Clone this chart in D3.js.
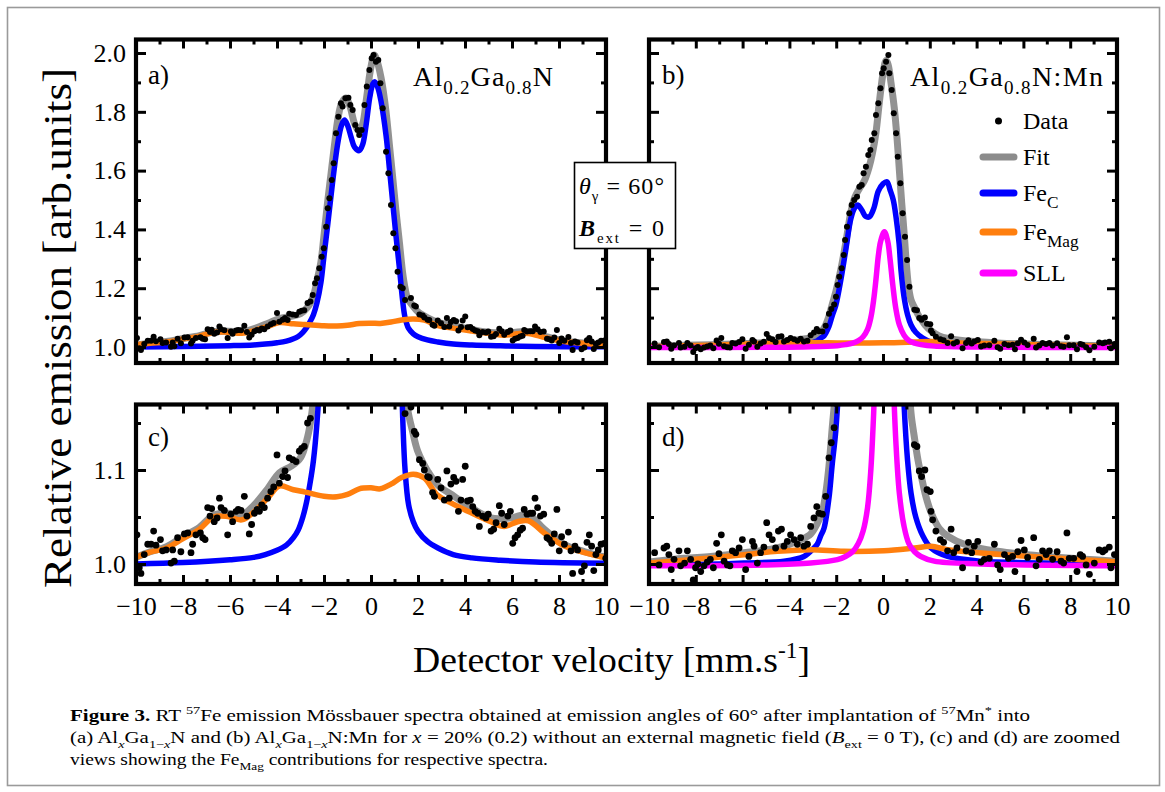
<!DOCTYPE html>
<html><head><meta charset="utf-8">
<script src="https://cdn.jsdelivr.net/npm/d3@7"></script>
<style>body{margin:0;background:#fff}svg{display:block}</style>
</head><body>
<svg id="fig" width="1165" height="792"></svg>
<script>
// ---------------- data ----------------
const velMajor = [-10,-8,-6,-4,-2,0,2,4,6,8,10];
const velMinor = [-9,-7,-5,-3,-1,1,3,5,7,9];
const emisMajorTop = [1.0,1.2,1.4,1.6,1.8,2.0];
const emisMinorTop = [1.1,1.3,1.5,1.7,1.9];
const emisMajorZoom = [1.0,1.1];
const emisMinorZoom = [1.05,1.15];

// Al0.2Ga0.8N  (panels a, c)
const dataA = [[-9.96,1.031],[-9.86,0.996],[-9.79,0.990],[-9.65,1.010],[-9.50,1.021],[-9.36,1.021],[-9.25,1.035],[-9.15,1.020],[-8.96,1.026],[-8.87,1.014],[-8.72,1.015],[-8.51,1.001],[-8.44,1.015],[-8.37,1.003],[-8.23,1.028],[-8.09,1.013],[-7.94,1.032],[-7.80,1.033],[-7.66,1.012],[-7.59,1.021],[-7.45,1.031],[-7.26,1.033],[-7.16,1.028],[-7.06,1.026],[-6.95,1.060],[-6.85,1.051],[-6.78,1.059],[-6.67,1.045],[-6.55,1.049],[-6.45,1.070],[-6.38,1.060],[-6.24,1.057],[-6.10,1.031],[-5.96,1.053],[-5.89,1.045],[-5.74,1.056],[-5.65,1.058],[-5.53,1.057],[-5.39,1.072],[-5.28,1.051],[-5.18,1.032],[-5.08,1.042],[-4.96,1.054],[-4.85,1.058],[-4.75,1.056],[-4.65,1.063],[-4.54,1.060],[-4.40,1.070],[-4.26,1.077],[-4.14,1.082],[-4.00,1.116],[-3.90,1.086],[-3.76,1.093],[-3.66,1.099],[-3.55,1.092],[-3.48,1.113],[-3.33,1.111],[-3.19,1.109],[-3.05,1.120],[-2.95,1.123],[-2.84,1.125],[-2.70,1.150],[-2.58,1.155],
[-2.48,1.177],[-2.38,1.217],[-2.30,1.234],[-2.20,1.268],[-2.10,1.307],[-2.01,1.336],[-1.91,1.409],[-1.84,1.472],[-1.77,1.506],[-1.67,1.568],[-1.59,1.625],[-1.49,1.727],[-1.39,1.783],[-1.28,1.829],[-1.21,1.818],[-1.09,1.846],[-0.96,1.848],[-0.88,1.823],[-0.78,1.806],[-0.67,1.755],[-0.57,1.738],[-0.50,1.721],[-0.40,1.738],[-0.28,1.823],[-0.18,1.886],[-0.07,1.942],[0.03,1.982],[0.11,1.993],[0.21,1.970],[0.31,1.976],[0.40,1.897],[0.50,1.812],[0.64,1.664],[0.74,1.591],[0.85,1.483],[0.95,1.387],[1.04,1.336],[1.13,1.256],[1.25,1.205],[1.35,1.200],[1.45,1.160],
[1.70,1.167],[1.84,1.141],[1.91,1.138],[2.06,1.111],[2.20,1.107],[2.27,1.100],[2.41,1.093],[2.48,1.092],[2.62,1.076],[2.70,1.072],[2.84,1.090],[2.98,1.081],[3.12,1.068],[3.23,1.099],[3.33,1.070],[3.40,1.085],[3.52,1.092],[3.62,1.088],[3.72,1.056],[3.83,1.068],[3.90,1.090],[4.01,1.104],[4.11,1.067],[4.23,1.068],[4.33,1.061],[4.43,1.056],[4.54,1.054],[4.61,1.040],[4.75,1.051],[4.89,1.049],[4.99,1.053],[5.11,1.035],[5.22,1.037],[5.32,1.044],[5.46,1.062],[5.56,1.054],[5.67,1.042],[5.82,1.051],[5.93,1.056],[6.03,1.022],[6.13,1.028],[6.24,1.031],[6.35,1.036],[6.45,1.038],[6.52,1.058],[6.64,1.053],[6.78,1.054],[6.88,1.054],[6.98,1.070],[7.09,1.060],[7.21,1.051],[7.35,1.053],[7.49,1.028],[7.59,1.026],[7.69,1.022],[7.80,1.032],[7.91,1.058],[8.01,1.014],[8.11,1.029],[8.23,1.021],[8.40,1.034],[8.51,1.014],[8.58,0.990],[8.68,1.019],[8.79,1.015],[8.96,0.992],[9.08,0.998],[9.19,1.023],[9.29,1.031],[9.39,1.019],[9.48,0.993],[9.57,1.010],[9.67,1.015],[9.79,1.021],[9.93,1.022],[9.99,1.006]];
const fitA = [[-10,1.007],[-9.4,1.013],[-8.7,1.0185],[-8,1.029],[-7.3,1.039],[-6.7,1.052],[-6.1,1.054],[-5.5,1.052],[-5,1.062],[-4.4,1.080],[-3.9,1.097],[-3.4,1.104],[-3.0,1.113],[-2.7,1.135],[-2.55,1.155],[-2.41,1.185],[-2.3,1.225],[-2.13,1.29],[-2.0,1.38],[-1.85,1.49],[-1.7,1.59],[-1.55,1.69],[-1.4,1.78],[-1.25,1.83],[-1.08,1.847],[-0.9,1.82],[-0.7,1.76],[-0.5,1.735],[-0.35,1.76],[-0.2,1.84],[-0.05,1.93],[0.07,1.98],[0.14,1.993],[0.25,1.975],[0.43,1.915],[0.64,1.80],[0.78,1.69],[0.92,1.58],[1.06,1.465],[1.21,1.355],[1.35,1.25],[1.45,1.20],[1.56,1.165],[1.77,1.141],[1.99,1.12],[2.41,1.099],[2.84,1.084],[3.54,1.072],[4.26,1.060],[5.1,1.049],[5.96,1.049],[6.67,1.0525],[7.37,1.037],[8.2,1.021],[9.1,1.013],[10,1.007]];
const fecA = [[-10,1.000],[-8,1.0015],[-6,1.0045],[-5,1.007],[-4.5,1.010],[-4,1.0145],[-3.6,1.02],[-3.3,1.028],[-3.1,1.036],[-2.9,1.05],[-2.75,1.065],[-2.6,1.085],[-2.45,1.11],[-2.3,1.15],[-2.13,1.22],[-2.0,1.31],[-1.85,1.41],[-1.7,1.515],[-1.55,1.615],[-1.4,1.70],[-1.25,1.755],[-1.13,1.772],[-1.0,1.755],[-0.85,1.715],[-0.7,1.68],[-0.5,1.668],[-0.35,1.69],[-0.2,1.76],[-0.05,1.85],[0.08,1.895],[0.17,1.902],[0.3,1.88],[0.43,1.834],[0.64,1.72],[0.78,1.61],[0.92,1.495],[1.06,1.38],[1.21,1.268],[1.35,1.155],[1.45,1.10],[1.6,1.063],[1.8,1.045],[2.0,1.035],[2.4,1.024],[2.85,1.017],[3.5,1.010],[4.3,1.0065],[5.5,1.004],[7,1.002],[10,1.0007]];
const femagA = [[-10,1.007],[-9.4,1.0125],[-8.7,1.017],[-8,1.027],[-7.3,1.037],[-6.7,1.050],[-6.1,1.0505],[-5.5,1.047],[-5,1.055],[-4.4,1.070],[-3.9,1.083],[-3.3,1.079],[-2.8,1.0765],[-2,1.072],[-1.45,1.0715],[-1,1.074],[-0.5,1.080],[0,1.081],[0.4,1.080],[0.85,1.085],[1.3,1.092],[1.8,1.0955],[2.27,1.0915],[2.8,1.074],[3.4,1.065],[4.3,1.054],[5.1,1.045],[5.67,1.040],[6.24,1.045],[6.7,1.046],[7.37,1.033],[7.8,1.0255],[8.23,1.019],[9.08,1.012],[10,1.0065]];

// Al0.2Ga0.8N:Mn  (panels b, d)
const dataB = [[-9.76,1.012],[-9.57,0.999],[-9.36,1.017],[-9.24,1.019],[-9.15,1.010],[-9.05,0.994],[-8.93,1.005],[-8.72,1.014],[-8.65,0.998],[-8.48,1.001],[-8.36,1.014],[-8.22,1.005],[-8.11,0.983],[-8.01,0.996],[-7.91,1.000],[-7.79,0.992],[-7.65,0.998],[-7.51,1.002],[-7.38,1.005],[-7.25,0.996],[-7.11,1.022],[-7.01,1.011],[-6.91,1.031],[-6.79,1.003],[-6.65,0.999],[-6.54,0.998],[-6.44,1.014],[-6.30,1.012],[-6.15,1.017],[-6.01,1.026],[-5.87,0.994],[-5.73,1.008],[-5.58,1.024],[-5.51,1.019],[-5.37,1.001],[-5.23,1.012],[-5.09,1.018],[-4.97,1.044],[-4.87,1.031],[-4.73,1.026],[-4.59,1.017],[-4.47,1.035],[-4.34,1.037],[-4.23,1.019],[-4.09,1.024],[-3.95,1.031],[-3.80,1.026],[-3.66,1.021],[-3.52,1.028],[-3.38,1.019],[-3.23,1.021],[-3.09,1.040],[-2.95,1.049],[-2.83,1.061],[-2.74,1.054],[-2.59,1.053],[-2.45,1.072],[-2.31,1.113],[-2.21,1.129],[-2.09,1.145],
[-2.01,1.171],[-1.94,1.211],[-1.87,1.239],[-1.77,1.268],[-1.68,1.313],[-1.62,1.364],[-1.54,1.409],[-1.44,1.455],[-1.34,1.483],[-1.23,1.500],[-1.11,1.511],[-1.01,1.545],[-0.91,1.551],[-0.83,1.591],[-0.73,1.613],[-0.63,1.653],[-0.54,1.670],[-0.48,1.704],[-0.37,1.727],[-0.30,1.789],[-0.20,1.829],[-0.11,1.880],[-0.04,1.931],[0.03,1.948],[0.13,1.970],[0.23,1.993],[0.27,1.931],[0.37,1.874],[0.46,1.795],[0.56,1.727],[0.63,1.647],[0.74,1.557],[0.84,1.455],[0.94,1.375],[1.03,1.296],[1.13,1.205],
[1.34,1.127],[1.45,1.125],[1.55,1.099],[1.65,1.093],[1.79,1.100],[1.88,1.079],[2.02,1.077],[2.05,1.056],[2.12,1.047],[2.26,1.035],[2.45,1.026],[2.59,1.023],[2.76,1.014],[2.91,1.037],[3.02,1.012],[3.16,1.017],[3.40,0.996],[3.55,1.014],[3.65,1.023],[3.79,1.012],[3.90,1.019],[4.05,1.024],[4.19,1.002],[4.33,1.005],[4.54,1.006],[4.76,1.021],[4.90,0.999],[5.01,0.994],[5.19,1.010],[5.36,1.006],[5.54,1.008],[5.64,0.992],[5.76,1.013],[5.90,1.025],[6.04,1.015],[6.18,1.007],[6.44,1.028],[6.54,0.998],[6.68,1.005],[6.82,1.014],[6.97,1.010],[7.11,1.014],[7.25,1.005],[7.44,1.013],[7.61,1.003],[7.72,1.001],[7.86,1.033],[7.96,1.006],[8.15,1.006],[8.29,0.992],[8.43,1.010],[8.53,1.008],[8.68,0.999],[8.82,0.989],[9.03,1.001],[9.24,1.015],[9.39,1.013],[9.49,1.015],[9.67,1.018],[9.74,0.996],[9.89,1.010]];
const fitB = [[-10,1.002],[-8.5,1.006],[-7.36,1.008],[-5.94,1.012],[-4.52,1.017],[-3.5,1.026],[-3.09,1.032],[-2.81,1.043],[-2.6,1.055],[-2.45,1.075],[-2.31,1.104],[-2.17,1.145],[-2.01,1.19],[-1.79,1.268],[-1.58,1.36],[-1.37,1.46],[-1.2,1.51],[-1.0,1.54],[-0.8,1.565],[-0.6,1.61],[-0.45,1.66],[-0.3,1.73],[-0.16,1.83],[0.0,1.93],[0.13,1.975],[0.22,1.96],[0.34,1.90],[0.48,1.815],[0.6,1.71],[0.7,1.60],[0.8,1.49],[0.91,1.38],[1.01,1.27],[1.1,1.20],[1.2,1.16],[1.34,1.135],[1.5,1.11],[1.65,1.092],[1.8,1.075],[2.05,1.055],[2.4,1.038],[2.8,1.029],[3.48,1.021],[4.9,1.0135],[7.04,1.008],[10,1.003]];
const fecB = [[-10,0.999],[-7,1.0],[-5.94,1.001],[-4.23,1.003],[-3.38,1.008],[-2.95,1.017],[-2.81,1.021],[-2.66,1.03],[-2.52,1.038],[-2.31,1.07],[-2.17,1.106],[-2.02,1.141],[-1.79,1.234],[-1.58,1.336],[-1.37,1.438],[-1.2,1.475],[-1.08,1.483],[-0.9,1.465],[-0.75,1.445],[-0.58,1.443],[-0.4,1.47],[-0.2,1.53],[0.0,1.555],[0.17,1.562],[0.3,1.535],[0.44,1.50],[0.56,1.44],[0.69,1.35],[0.77,1.26],[0.9,1.17],[1.05,1.11],[1.2,1.075],[1.4,1.05],[1.7,1.03],[2.05,1.017],[2.76,1.008],[4.19,1.003],[7,1.001],[10,0.9993]];
const femagB = [[-10,1.001],[-8.5,1.004],[-7.36,1.0064],[-5.94,1.0099],[-4.52,1.0135],[-3.09,1.0152],[-1.67,1.0135],[0.04,1.0142],[1.34,1.017],[2.05,1.0188],[2.76,1.0152],[4.19,1.0117],[6.32,1.008],[8.46,1.0046],[10,1.002]];
const sllB = [[-10,0.998],[-5,0.999],[-3.09,1.001],[-1.95,1.0046],[-1.6,1.008],[-1.3,1.013],[-1.05,1.022],[-0.85,1.035],[-0.66,1.06],[-0.52,1.10],[-0.4,1.16],[-0.3,1.23],[-0.2,1.31],[-0.1,1.36],[0.06,1.392],[0.2,1.36],[0.3,1.30],[0.42,1.21],[0.55,1.13],[0.7,1.075],[0.9,1.04],[1.1,1.022],[1.35,1.013],[1.62,1.008],[2.19,1.003],[4.19,1.0],[10,0.998]];

const legendNames = ["Data","Fit","Fe|C","Fe|Mag","SLL"];
const colors = {fit:"#7f7f7f", fec:"#0000ff", femag:"#ff7f0e", sll:"#ff00ff", data:"#000"};

// ---------------- font choice (first installed serif) ----------------
function pickFont(cands){
  const ctx = document.createElement("canvas").getContext("2d");
  const s = "Relative emission 0123456789 Wmli";
  for(const f of cands){
    ctx.font = `40px "${f}", monospace`; const w1 = ctx.measureText(s).width;
    ctx.font = `40px "${f}", sans-serif`; const w2 = ctx.measureText(s).width;
    if(Math.abs(w1-w2) < 0.01) return `"${f}", serif`;
  }
  return "serif";
}
const FONT = pickFont(["Liberation Serif","Tinos","Times New Roman","Nimbus Roman","Nimbus Roman No9 L","Noto Serif","DejaVu Serif"]);

// ---------------- drawing ----------------
const svg = d3.select("#fig");
svg.style("font-family", FONT);

svg.append("rect").attr("x",7.5).attr("y",7.5).attr("width",1152).attr("height",778)
  .attr("fill","none").attr("stroke","#9a9a9a").attr("stroke-width",1.6);

function rich(g, x, y, parts, fs, anchor){
  const t = g.append("text").attr("x",x).attr("y",y).attr("font-size",fs)
    .attr("text-anchor",anchor||"start").attr("fill","#000").style("font-family",FONT);
  let off = 0;
  parts.forEach(p=>{
    let target = 0, size = fs;
    if(p.sub){ target = fs*0.3; size = fs*(p.scale||0.68); }
    if(p.sup){ target = -fs*0.4; size = fs*(p.scale||0.68); }
    const ts = t.append("tspan").text(p.t).attr("font-size",size);
    if(target-off !== 0) ts.attr("dy", target-off);
    off = target;
    if(p.it) ts.attr("font-style","italic");
    if(p.b) ts.attr("font-weight","bold");
  });
  return t;
}

const panels = [
  {id:"a", xr:[136,606], yr:[363,39.5], yd:[0.9456,2.046], yMaj:emisMajorTop, yMin:emisMinorTop, yLab:true, xLab:false, data:dataA, fit:fitA, fec:fecA, femag:femagA, sll:null, r:3.0},
  {id:"b", xr:[649,1117], yr:[363,39.5], yd:[0.9456,2.046], yMaj:emisMajorTop, yMin:emisMinorTop, yLab:false, xLab:false, data:dataB, fit:fitB, fec:fecB, femag:femagB, sll:sllB, r:3.0},
  {id:"c", xr:[136,606], yr:[584,404.5], yd:[0.9787,1.1697], yMaj:emisMajorZoom, yMin:emisMinorZoom, yLab:true, xLab:true, data:dataA, fit:fitA, fec:fecA, femag:femagA, sll:null, r:3.4},
  {id:"d", xr:[649,1117], yr:[584,404.5], yd:[0.9787,1.1697], yMaj:emisMajorZoom, yMin:emisMinorZoom, yLab:false, xLab:true, data:dataB, fit:fitB, fec:fecB, femag:femagB, sll:sllB, r:3.4}
];

const TICKFS = 26;
panels.forEach(p=>{
  const x = d3.scaleLinear().domain([-10,10]).range(p.xr);
  const y = d3.scaleLinear().domain(p.yd).range(p.yr);
  const g = svg.append("g");
  const [x0,x1] = p.xr, yb = p.yr[0], yt = p.yr[1];

  const cid = "clip-"+p.id;
  svg.append("defs").append("clipPath").attr("id",cid).append("rect")
    .attr("x",x0).attr("y",yt).attr("width",x1-x0).attr("height",yb-yt);
  const plot = g.append("g").attr("clip-path",`url(#${cid})`);

  const line = d3.line().x(d=>x(d[0])).y(d=>y(d[1])).curve(d3.curveCatmullRom.alpha(0.5));
  plot.append("path").attr("d",line(p.fit)).attr("fill","none").attr("stroke",colors.fit)
    .attr("stroke-width",7).attr("stroke-opacity",0.85).attr("stroke-linejoin","round");
  plot.append("path").attr("d",line(p.fec)).attr("fill","none").attr("stroke",colors.fec)
    .attr("stroke-width",5.5).attr("stroke-linejoin","round");
  plot.append("path").attr("d",line(p.femag)).attr("fill","none").attr("stroke",colors.femag)
    .attr("stroke-width",5.5).attr("stroke-linejoin","round");
  if(p.sll) plot.append("path").attr("d",line(p.sll)).attr("fill","none").attr("stroke",colors.sll)
    .attr("stroke-width",5.5).attr("stroke-linejoin","round");
  plot.selectAll("circle").data(p.data).join("circle")
    .attr("cx",d=>x(d[0])).attr("cy",d=>y(d[1])).attr("r",p.r).attr("fill",colors.data);

  // axes (inward ticks on all four sides)
  const style = sel=>{ sel.select(".domain").remove();
    sel.selectAll(".tick line").attr("stroke","#000").attr("stroke-width",3);
    sel.attr("font-family",null).attr("font-size",null);
    sel.selectAll("text").style("font-family",FONT).attr("font-size",TICKFS).attr("fill","#000"); };
  g.append("g").attr("transform",`translate(0,${yb})`)
    .call(d3.axisBottom(x).tickValues(velMajor).tickSizeInner(-9).tickSizeOuter(0).tickPadding(13)
      .tickFormat(p.xLab ? d3.format("d") : ()=>"")).call(style);
  g.append("g").attr("transform",`translate(0,${yb})`)
    .call(d3.axisBottom(x).tickValues(velMinor).tickSizeInner(-5).tickSizeOuter(0).tickFormat(()=>"")).call(style);
  g.append("g").attr("transform",`translate(0,${yt})`)
    .call(d3.axisTop(x).tickValues(velMajor).tickSizeInner(-9).tickSizeOuter(0).tickFormat(()=>"")).call(style);
  g.append("g").attr("transform",`translate(0,${yt})`)
    .call(d3.axisTop(x).tickValues(velMinor).tickSizeInner(-5).tickSizeOuter(0).tickFormat(()=>"")).call(style);
  g.append("g").attr("transform",`translate(${x0},0)`)
    .call(d3.axisLeft(y).tickValues(p.yMaj).tickSizeInner(-10).tickSizeOuter(0).tickPadding(10)
      .tickFormat(p.yLab ? d3.format(".1f") : ()=>"")).call(style);
  g.append("g").attr("transform",`translate(${x0},0)`)
    .call(d3.axisLeft(y).tickValues(p.yMin).tickSizeInner(-5).tickSizeOuter(0).tickFormat(()=>"")).call(style);
  g.append("g").attr("transform",`translate(${x1},0)`)
    .call(d3.axisRight(y).tickValues(p.yMaj).tickSizeInner(-10).tickSizeOuter(0).tickFormat(()=>"")).call(style);
  g.append("g").attr("transform",`translate(${x1},0)`)
    .call(d3.axisRight(y).tickValues(p.yMin).tickSizeInner(-5).tickSizeOuter(0).tickFormat(()=>"")).call(style);

  g.append("rect").attr("x",x0).attr("y",yt).attr("width",x1-x0).attr("height",yb-yt)
    .attr("fill","none").attr("stroke","#000").attr("stroke-width",4.2);

  const labX = p.id==="a"||p.id==="c" ? 148 : 662;
  const labY = p.id==="a"||p.id==="b" ? 84 : 446;
  g.append("text").attr("x",labX).attr("y",labY).attr("font-size",27).style("font-family",FONT).text(p.id+")");
});

// panel titles
rich(svg, 413, 86, [{t:"Al"},{t:"0.2",sub:true},{t:"Ga"},{t:"0.8",sub:true},{t:"N"}], 28).attr("textLength",140);
rich(svg, 910, 86, [{t:"Al"},{t:"0.2",sub:true},{t:"Ga"},{t:"0.8",sub:true},{t:"N:Mn"}], 28).attr("textLength",193);

// legend (panel b)
const legY = [121,157,193,232,273];
const leg = svg.append("g");
leg.append("circle").attr("cx",998.5).attr("cy",legY[0]).attr("r",3.5).attr("fill",colors.data);
[colors.fit, colors.fec, colors.femag, colors.sll].forEach((c,i)=>{
  leg.append("line").attr("x1",983).attr("x2",1014).attr("y1",legY[i+1]).attr("y2",legY[i+1])
    .attr("stroke",c).attr("stroke-width",7).attr("stroke-linecap","round")
    .attr("stroke-opacity", i===0?0.9:1);
});
legendNames.forEach((n,i)=>{
  const [a,b] = n.split("|");
  const parts = [{t:a}]; if(b) parts.push({t:b,sub:true,scale:0.72});
  rich(leg, 1023, legY[i]+8, parts, 24);
});

// annotation box
svg.append("rect").attr("x",574.5).attr("y",162.5).attr("width",101).attr("height",86)
  .attr("fill","#fff").attr("stroke","#000").attr("stroke-width",1.6);
rich(svg, 579, 194, [{t:"θ",it:true},{t:"γ",sub:true,scale:0.62},{t:" = 60°"}], 24).attr("textLength",85);
rich(svg, 579, 236, [{t:"B",it:true,b:true},{t:"ext",sub:true,scale:0.62},{t:" = 0"}], 24).attr("textLength",85);

// axis titles
svg.append("text").attr("transform","translate(71,328) rotate(-90)").attr("text-anchor","middle")
  .attr("font-size",40).style("font-family",FONT).attr("textLength",520).attr("lengthAdjust","spacingAndGlyphs")
  .text("Relative emission [arb.units]");
rich(svg, 611.5, 672, [{t:"Detector velocity [mm.s"},{t:"-1",sup:true,scale:0.62},{t:"]"}], 36, "middle")
  .attr("textLength",397).attr("lengthAdjust","spacingAndGlyphs");

// caption
const CAP = 16.5;
rich(svg, 70, 721, [{t:"Figure 3.",b:true},{t:"   RT "},{t:"57",sup:true},{t:"Fe emission Mössbauer spectra obtained at emission angles of 60° after implantation of "},{t:"57",sup:true},{t:"Mn"},{t:"*",sup:true},{t:" into"}], CAP)
  .attr("textLength",960).attr("lengthAdjust","spacingAndGlyphs");
rich(svg, 70, 743, [{t:"(a) Al"},{t:"x",sub:true,it:true},{t:"Ga"},{t:"1−",sub:true},{t:"x",sub:true,it:true},{t:"N and (b) Al"},{t:"x",sub:true,it:true},{t:"Ga"},{t:"1−",sub:true},{t:"x",sub:true,it:true},{t:"N:Mn for "},{t:"x",it:true},{t:" = 20% (0.2) without an external magnetic field ("},{t:"B",it:true},{t:"ext",sub:true},{t:" = 0 T), (c) and (d) are zoomed"}], CAP)
  .attr("textLength",1050).attr("lengthAdjust","spacingAndGlyphs");
rich(svg, 70, 765, [{t:"views showing the Fe"},{t:"Mag",sub:true},{t:" contributions for respective spectra."}], CAP)
  .attr("textLength",478).attr("lengthAdjust","spacingAndGlyphs");
</script>
</body></html>
